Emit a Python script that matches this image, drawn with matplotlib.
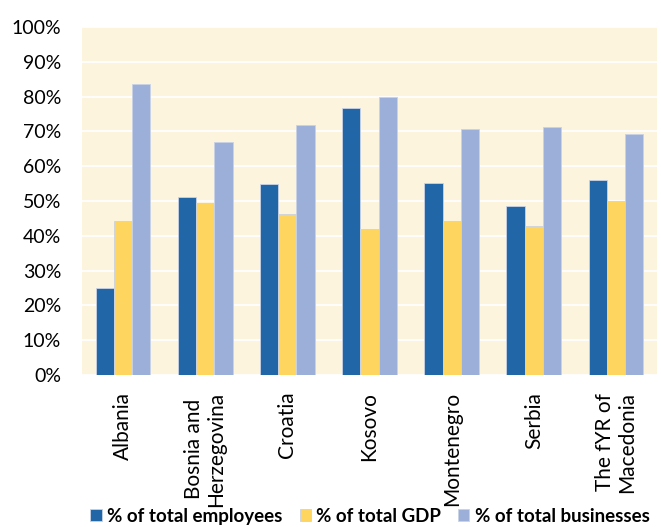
import numpy as np
import matplotlib.pyplot as plt
from matplotlib.ticker import PercentFormatter

pays = ["Albania", "Bosnia and\nHerzegovina", "Croatia", "Kosovo",
        "Montenegro", "Serbia", "The fYR of\nMacedonia"]
employes = [25.0, 51.1, 54.9, 76.6, 55.1, 48.7, 55.9]
pib = [44.2, 49.4, 46.4, 42.0, 44.2, 42.7, 50.0]
entreprises = [83.7, 67.0, 71.7, 79.8, 70.8, 71.3, 69.2]

series = [
    ("% of total employees", employes, "#2166a6"),
    ("% of total GDP", pib, "#fed65f"),
    ("% of total businesses", entreprises, "#9bafd9"),
]

plt.rcParams['font.family'] = ['Lato', 'DejaVu Sans']

fig = plt.figure(figsize=(6.61, 5.27), dpi=100)
ax = fig.add_axes([0.124, 0.2884, 0.870, 0.6604])
ax.set_facecolor("#fdf4de")

x = np.arange(len(pays))
largeur = 0.222
for i, (nom, valeurs, couleur) in enumerate(series):
    ax.bar(x + (i - 1) * largeur, valeurs, width=largeur, color=couleur,
           edgecolor="#c9d3e6", linewidth=0.6, label=nom, zorder=3)

ax.set_xlim(-0.5, len(pays) - 0.5)
ax.set_ylim(0, 100)
ax.set_yticks(np.arange(0, 101, 10))
ax.yaxis.set_major_formatter(PercentFormatter(decimals=0))
ax.grid(axis="y", color="white", linewidth=1.3, zorder=1)
ax.set_axisbelow(True)
for s in ax.spines.values():
    s.set_visible(False)

ax.set_xticks(x)
ax.set_xticklabels(pays, rotation=90, fontsize=15, ha="center", va="top",
                   linespacing=1.12)
ax.tick_params(axis="both", length=0)
ax.tick_params(axis="y", labelsize=14, pad=15)
ax.tick_params(axis="x", pad=12)

leg = fig.legend(loc="center", bbox_to_anchor=(0.56, 0.02), ncol=3,
                 frameon=False, handlelength=0.6, handleheight=0.6,
                 handletextpad=0.3, columnspacing=0.9,
                 prop={"weight": "bold", "size": 13.5})

fig.savefig("out.png", dpi=100)
